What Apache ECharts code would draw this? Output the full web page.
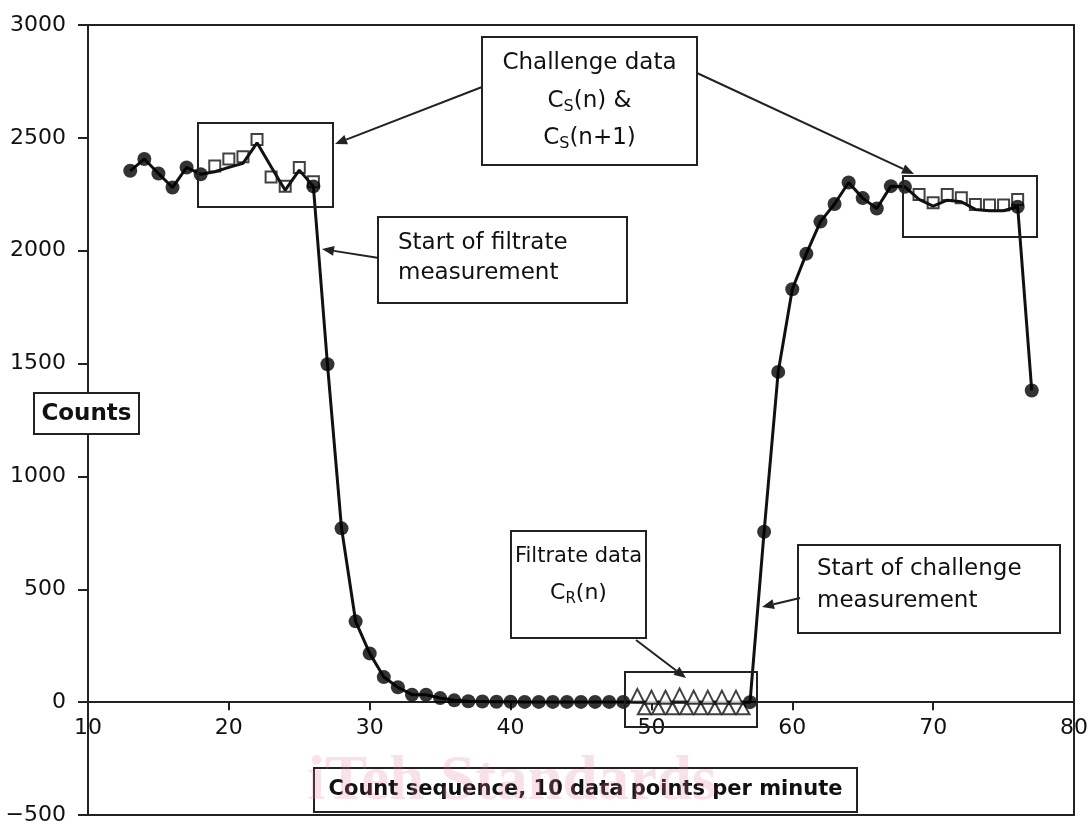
<!DOCTYPE html>
<html>
<head>
<meta charset="utf-8">
<script src="https://cdn.jsdelivr.net/npm/echarts@6/dist/echarts.min.js"></script>
<style>
html,body{margin:0;padding:0;background:#fff;}
#chart{width:1089px;height:824px;}
</style>
</head>
<body>
<div id="chart"></div>
<script>
// ---- data ----
const seqX = [13,14,15,16,17,18,19,20,21,22,23,24,25,26,27,28,29,30,31,32,33,34,35,36,37,38,39,40,41,42,43,44,45,46,47,48,49,50,51,52,53,54,55,56,57,58,59,60,61,62,63,64,65,66,67,68,69,70,71,72,73,74,75,76,77];
const counts = [2354,2406,2342,2280,2369,2339,2350,2369,2387,2478,2372,2268,2357,2285,1497,770,358,216,111,66,33,33,18,8,4,3,2,2,1,1,1,1,1,1,1,1,0,0,0,0,0,0,0,0,0,755,1463,1829,1987,2129,2207,2302,2233,2187,2286,2283,2227,2198,2224,2217,2183,2177,2177,2195,1381];
const dotX = [13,14,15,16,17,18,26,27,28,29,30,31,32,33,34,35,36,37,38,39,40,41,42,43,44,45,46,47,48,57,58,59,60,61,62,63,64,65,66,67,68,76,77];
const challengeX = [19,20,21,22,23,24,25,26,69,70,71,72,73,74,75,76];
const challengeY = [2375,2406,2416,2493,2327,2286,2369,2305,2249,2212,2249,2235,2205,2202,2202,2227];
const filtrateX = [49,50,51,52,53,54,55,56];
const filtrateY = [30,22,22,32,22,22,22,22];
const filtrateX2 = [49.5,50.5,51.5,52.5,53.5,54.5,55.5,56.5];
const filtrateY2 = [-27,-27,-27,-27,-27,-27,-27,-27];
const xTicks = {min:10, max:80, interval:10};
const yTicks = {min:-500, max:3000, interval:500};

// ---- build ----
const FONT = 'DejaVu Sans';
const INK = '#111';
const GRID = {left:88, top:25, width:986, height:790};
const xAxisOffset = -(0 - yTicks.min) / (yTicks.max - yTicks.min) * GRID.height;
const lineData = seqX.map((x,i)=>[x,counts[i]]);
const dotData = dotX.map(x=>[x, counts[seqX.indexOf(x)]]);
const sqData = challengeX.map((x,i)=>[x,challengeY[i]]);
const triData = filtrateX.map((x,i)=>[x,filtrateY[i]]);
const triData2 = filtrateX2.map((x,i)=>[x,filtrateY2[i]]);

function box(x,y,w,h,fill){
  return {type:'rect', shape:{x:x,y:y,width:w,height:h}, style:{fill:fill?'#fff':'none', stroke:'#222', lineWidth:2}, z:100};
}
function txt(x,y,text,align,font,rich){
  const s = {text:text, x:x, y:y, font:font||('23px "'+FONT+'"'), fill:INK, align:align||'left', verticalAlign:'middle'};
  if (rich) s.rich = rich;
  return {type:'text', style:s, z:102};
}
function arrow(x1,y1,x2,y2){
  const dx=x2-x1, dy=y2-y1, L=Math.sqrt(dx*dx+dy*dy), ux=dx/L, uy=dy/L;
  const hl=12, hw=5;
  const bx=x2-ux*hl, by=y2-uy*hl;
  return [
    {type:'line', shape:{x1:x1,y1:y1,x2:bx,y2:by}, style:{stroke:'#222', lineWidth:2}, z:101},
    {type:'polygon', shape:{points:[[x2,y2],[bx-uy*hw,by+ux*hw],[bx+uy*hw,by-ux*hw]]}, style:{fill:'#222'}, z:101}
  ];
}
function subRich(size){
  return {
    a:{fontFamily:FONT, fontSize:size, color:INK, lineHeight:size+5},
    s:{fontFamily:FONT, fontSize:Math.round(size*0.7), color:INK, verticalAlign:'bottom', lineHeight:Math.round(size*0.7)+3}
  };
}

const chart = echarts.init(document.getElementById('chart'), null, {renderer:'canvas'});
chart.setOption({
  animation:false,
  backgroundColor:'#fff',
  grid:{left:GRID.left, top:GRID.top, width:GRID.width, height:GRID.height, show:true, borderColor:'#222', borderWidth:2, containLabel:false, outerBoundsMode:'none'},
  xAxis:{type:'value', min:xTicks.min, max:xTicks.max, interval:xTicks.interval, position:'bottom', offset:xAxisOffset,
    axisLine:{onZero:false, lineStyle:{color:'#222', width:2}},
    axisTick:{show:true, length:8, lineStyle:{color:'#222', width:2}},
    axisLabel:{fontFamily:FONT, fontSize:22, color:INK, margin:15, formatter:v=>String(v)},
    splitLine:{show:false}},
  yAxis:{type:'value', min:yTicks.min, max:yTicks.max, interval:yTicks.interval,
    axisLine:{show:true, onZero:false, lineStyle:{color:'#222', width:2}},
    axisTick:{show:true, length:10, lineStyle:{color:'#222', width:2}},
    axisLabel:{fontFamily:FONT, fontSize:22, color:INK, margin:22, formatter:v=>String(v).replace('-','\u2212')},
    splitLine:{show:false}},
  series:[
    {type:'line', data:lineData, symbol:'none', lineStyle:{color:'#111', width:3}, z:3},
    {type:'scatter', data:triData2, symbol:'triangle', symbolSize:[13,12], itemStyle:{color:'#fff', borderColor:'#111', borderWidth:2}, z:4},
    {type:'scatter', data:triData, symbol:'triangle', symbolSize:[13,13], itemStyle:{color:'#fff', borderColor:'#111', borderWidth:2}, z:5},
    {type:'scatter', data:sqData, symbol:'rect', symbolSize:11, itemStyle:{color:'rgba(0,0,0,0)', borderColor:'#111', borderWidth:2}, z:6},
    {type:'scatter', data:dotData, symbol:'circle', symbolSize:14, itemStyle:{color:'#000'}, z:7}
  ],
  graphic:[
    box(198,123,135,84,false),
    box(903,176,134,61,false),
    box(625,672,132,55,false),
    box(482,37,215,128,true),
    txt(589.5,63,'Challenge data','center'),
    txt(589.5,101,'{a|C}{s|S}{a|(n) &}','center',null,subRich(23)),
    txt(589.5,138,'{a|C}{s|S}{a|(n+1)}','center',null,subRich(23)),
    ...arrow(482,87,335,144),
    ...arrow(697,73,914,174),
    box(378,217,249,86,true),
    txt(398,243,'Start of filtrate','left'),
    txt(398,273,'measurement','left'),
    ...arrow(379,258,322,249),
    box(511,531,135,107,true),
    txt(578.5,557,'Filtrate data','center','21px "'+FONT+'"'),
    txt(578.5,593,'{a|C}{s|R}{a|(n)}','center',null,subRich(22)),
    ...arrow(636,640,686,678),
    box(798,545,262,88,true),
    txt(817,569,'Start of challenge','left'),
    txt(817,601,'measurement','left'),
    ...arrow(800,598,762,607),
    box(34,393,105,41,true),
    txt(86.5,414,'Counts','center','bold 23px "'+FONT+'"'),
    box(314,768,543,44,true),
    txt(585.5,790,'Count sequence, 10 data points per minute','center','bold 21px "'+FONT+'"'),
    {type:'text', style:{text:'iTeh Standards', x:512, y:783, font:'bold 63px "Liberation Serif"', fill:'rgba(225,120,150,0.22)', align:'center', verticalAlign:'middle'}, z:110}
  ]
});
</script>
</body>
</html>
